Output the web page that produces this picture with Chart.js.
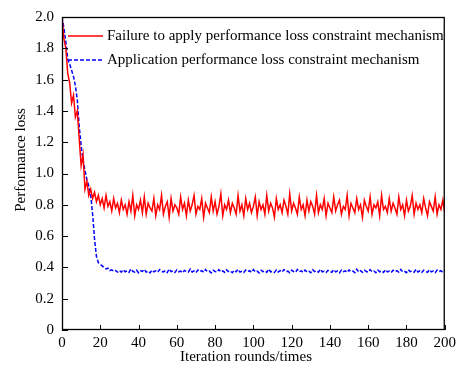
<!DOCTYPE html>
<html><head><meta charset="utf-8">
<script src="https://cdn.jsdelivr.net/npm/chart.js@4/dist/chart.umd.min.js"></script>
<style>html,body{margin:0;padding:0;background:#fff;}canvas{display:block;}</style>
</head><body>
<canvas id="c" width="460" height="365"></canvas>
<script>
const seriesNames = ["Failure to apply performance loss constraint mechanism", "Application performance loss constraint mechanism"];
const xTitle = "Iteration rounds/times";
const yTitle = "Performance loss";
const xTicks = [0,20,40,60,80,100,120,140,160,180,200];
const yTicks = [0,0.2,0.4,0.6,0.8,1.0,1.2,1.4,1.6,1.8,2.0];

const redLoss = [
2.0,1.86,1.80,1.64,1.58,1.45,1.50,1.36,1.40,1.22,1.05,1.12,0.90,0.95,0.86,0.90,0.84,0.88,0.82,0.86,
0.80,0.84,0.78,0.86,0.79,0.82,0.76,0.84,0.78,0.81,0.75,0.83,0.77,0.80,0.74,0.82,0.76,0.86,0.73,0.80,
0.77,0.83,0.75,0.85,0.74,0.81,0.78,0.76,0.84,0.73,0.80,0.77,0.86,0.74,0.79,0.82,0.72,0.84,0.76,0.80,
0.78,0.74,0.85,0.77,0.81,0.73,0.83,0.76,0.80,0.86,0.74,0.79,0.77,0.84,0.72,0.81,0.78,0.75,0.85,0.76,
0.82,0.74,0.79,0.87,0.73,0.80,0.77,0.83,0.75,0.81,0.78,0.74,0.86,0.76,0.80,0.73,0.84,0.77,0.81,0.75,
0.79,0.85,0.73,0.82,0.77,0.80,0.74,0.86,0.76,0.81,0.78,0.72,0.84,0.77,0.80,0.75,0.83,0.79,0.74,0.87,
0.76,0.81,0.78,0.74,0.85,0.77,0.80,0.73,0.83,0.76,0.82,0.79,0.74,0.86,0.75,0.80,0.77,0.84,0.73,0.81,
0.78,0.75,0.85,0.76,0.80,0.83,0.74,0.79,0.77,0.86,0.73,0.81,0.78,0.75,0.84,0.77,0.80,0.72,0.83,0.79,
0.76,0.85,0.74,0.80,0.78,0.82,0.73,0.86,0.77,0.79,0.75,0.84,0.76,0.81,0.78,0.74,0.85,0.77,0.80,0.73,
0.83,0.76,0.79,0.86,0.74,0.81,0.77,0.80,0.75,0.84,0.78,0.73,0.82,0.79,0.76,0.85,0.74,0.80,0.77,0.83,0.75
];
const blueLoss = [
2.0,1.93,1.84,1.73,1.70,1.66,1.62,1.56,1.47,1.30,1.18,1.08,1.02,0.96,0.92,0.86,0.74,0.58,0.47,0.43,
0.42,0.41,0.40,0.39,0.395,0.38,0.385,0.375,0.38,0.37,
0.38,0.37,0.385,0.372,0.378,0.368,0.39,0.375,0.37,0.382,0.366,0.379,0.374,0.388,0.37,0.376,0.365,0.383,0.372,0.378,
0.369,0.386,0.374,0.371,0.38,0.367,0.39,0.373,0.378,0.368,0.384,0.372,0.376,0.366,0.381,0.374,0.37,0.389,0.371,0.377,
0.367,0.383,0.373,0.379,0.369,0.387,0.372,0.376,0.365,0.382,0.374,0.37,0.386,0.371,0.378,0.368,0.384,0.373,0.377,0.366,
0.381,0.372,0.388,0.37,0.375,0.367,0.383,0.374,0.379,0.369,0.386,0.371,0.376,0.365,0.382,0.373,0.378,0.368,0.389,0.372,
0.375,0.367,0.384,0.371,0.379,0.37,0.386,0.373,0.376,0.366,0.382,0.374,0.369,0.387,0.372,0.378,0.368,0.383,0.371,0.376,
0.366,0.385,0.373,0.379,0.37,0.388,0.372,0.375,0.367,0.381,0.374,0.369,0.386,0.371,0.377,0.365,0.383,0.373,0.378,0.368,
0.384,0.372,0.376,0.367,0.389,0.371,0.379,0.369,0.382,0.374,0.37,0.386,0.373,0.377,0.366,0.383,0.372,0.378,0.368,0.385,
0.371,0.376,0.367,0.382,0.374,0.379,0.369,0.387,0.372,0.375,0.366,0.384,0.373,0.378,0.37,0.388,0.371,0.377,0.367,0.382,
0.374,0.369,0.385,0.372,0.376,0.366,0.383,0.373,0.379,0.368,0.38
];

const FONT = "'Liberation Serif','Times New Roman',serif";
const toPts = arr => arr.map((v,i)=>({x:i,y:v}));

const framePlugin = {
  id:'framePlugin',
  afterDraw(chart){
    const {ctx, chartArea:a, scales:{x,y}} = chart;
    ctx.save();
    ctx.strokeStyle='#000'; ctx.lineWidth=1;
    ctx.beginPath();
    xTicks.forEach(v=>{const px=Math.round(x.getPixelForValue(v))+0.5; ctx.moveTo(px,a.bottom); ctx.lineTo(px,a.bottom-5);});
    yTicks.forEach(v=>{const py=Math.round(y.getPixelForValue(v))+0.5; ctx.moveTo(a.left,py); ctx.lineTo(a.left+6,py);});
    ctx.stroke();
    ctx.lineWidth=1.3;
    ctx.strokeRect(a.left+0.5,a.top+0.5,a.right-a.left-1,a.bottom-a.top-1);
    // axis titles
    ctx.fillStyle='#000';
    ctx.font = "15px "+FONT;
    ctx.textAlign='center'; ctx.textBaseline='middle';
    ctx.fillText(xTitle, 246, 357);
    ctx.translate(21,160); ctx.rotate(-Math.PI/2);
    ctx.fillText(yTitle, 0, 0);
    ctx.restore();
  }
};
const customLegend = {
  id:'customLegend',
  afterDraw(chart){
    const {ctx, chartArea:a} = chart;
    ctx.save();
    ctx.font = "15px "+FONT;
    ctx.textBaseline='middle';
    chart.data.datasets.forEach((ds,i)=>{
      const yy = a.top + 19 + i*24;
      ctx.strokeStyle = ds.borderColor; ctx.lineWidth = 1.5;
      ctx.setLineDash(ds.borderDash||[]);
      ctx.beginPath(); ctx.moveTo(a.left+6,yy); ctx.lineTo(a.left+41,yy); ctx.stroke();
      ctx.setLineDash([]);
      ctx.fillStyle='#000';
      ctx.fillText(ds.label, a.left+45, yy);
    });
    ctx.restore();
  }
};

new Chart(document.getElementById('c'),{
  type:'line',
  data:{datasets:[
    {label:seriesNames[0], data:toPts(redLoss), borderColor:'rgb(255,0,0)', borderWidth:1.5, pointRadius:0, tension:0, fill:false},
    {label:seriesNames[1], data:toPts(blueLoss), borderColor:'rgb(0,0,255)', borderWidth:1.5, borderDash:[4,2], pointRadius:0, tension:0, fill:false}
  ]},
  options:{
    responsive:false, animation:false,
    layout:{padding:{left:0,right:15,top:16,bottom:0}},
    plugins:{legend:{display:false}, tooltip:{enabled:false}},
    scales:{
      x:{type:'linear', min:0, max:200,
        afterBuildTicks(s){ s.ticks = xTicks.map(v=>({value:v})); },
        afterFit(s){ s.height = 35; },
        grid:{display:false, drawTicks:false}, border:{display:false},
        ticks:{color:'#000', font:{family:FONT,size:15}, padding:4, maxRotation:0, autoSkip:false}
      },
      y:{min:0, max:2.0,
        afterBuildTicks(s){ s.ticks = yTicks.map(v=>({value:v})); },
        afterFit(s){ s.width = 62; },
        grid:{display:false, drawTicks:false}, border:{display:false},
        ticks:{color:'#000', font:{family:FONT,size:15}, padding:8, autoSkip:false,
          callback:v => v===0 ? '0' : Number(v).toFixed(1)}
      }
    }
  },
  plugins:[framePlugin, customLegend]
});
</script>
</body></html>
